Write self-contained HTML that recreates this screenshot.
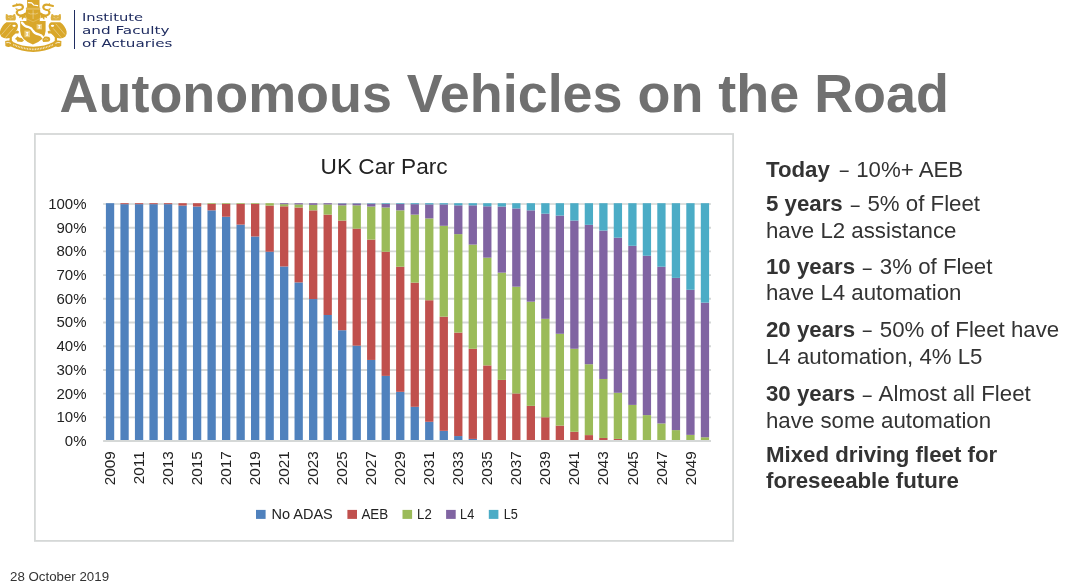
<!DOCTYPE html>
<html lang="en"><head><meta charset="utf-8"><title>Autonomous Vehicles on the Road</title>
<style>
html,body{margin:0;padding:0;background:#fff;}
body{width:1067px;height:585px;position:relative;overflow:hidden;will-change:transform;font-family:"Liberation Sans",sans-serif;}
.abs{position:absolute;white-space:nowrap;}
h1{position:absolute;left:59.6px;top:63px;margin:0;font-size:53.9px;line-height:60px;font-weight:bold;color:#707070;white-space:nowrap;letter-spacing:0;}
.t{position:absolute;left:766px;font-size:22.25px;line-height:26px;color:#333;white-space:nowrap;margin:0;}
.t b{font-weight:bold;}
.d{display:inline-block;transform:scaleX(0.72);position:relative;top:0.5px;}
.logo{position:absolute;left:82.4px;font-family:"DejaVu Sans","Liberation Sans",sans-serif;font-size:10.6px;line-height:12px;color:#1F2C60;white-space:nowrap;transform-origin:0 0;transform:scaleX(1.36);}
.foot{position:absolute;left:10px;top:568.5px;font-size:13.3px;line-height:15px;color:#333;white-space:nowrap;}
</style></head><body>
<svg width="70" height="56" viewBox="0 0 70 56" style="position:absolute;left:0;top:0">
<defs>
<g id="mant">
<path d="M13.2 6 L17.2 4.9 Q20.6 4 22.4 5.6 Q23.6 7.4 22 9 Q20.4 10.2 18 10.2 Q16.4 11.6 17 13.4 Q18 15.6 21 15.6 Q23.6 15.4 25.6 13.6" fill="none" stroke="#D9A72A" stroke-width="2.1" stroke-linejoin="round" stroke-linecap="round"/>
<path d="M16 4.6 L16.4 2.9 L18.6 4.4 Z M15 8.4 L17.6 8.6 L17 10.4 Z M20 15.6 L19 18.2 L21.6 17 L22 20 L24 17.6 L25.8 18.6 L25.8 13 Z" fill="#D9A72A"/>
</g>
<g id="owl">
<path fill="#DDB140" d="M5.8 14.3 L7 14 L8.4 15.4 Q10.5 14.8 12.6 15.4 L14 14 L15.2 14.3 L15.9 17.5 Q16 19.8 15 20.6 H6.6 Q5.5 19.8 5.6 17.5 Z"/>
<path fill="#D9A72A" d="M6.4 22.2 H15.4 Q18.4 23.6 17.9 27 Q17.4 30 15.4 31.4 L17.4 30.4 L19 31.6 L18.4 33.4 L15.6 33.6 Q13 35.4 11.8 37.6 L11.9 41 L13.4 41.9 H8 L9.4 40.8 L9.6 38 Q5 39.4 1.4 36.8 L0 34 V31.5 Q1.4 25.6 6.4 22.2 Z"/>
<ellipse cx="14.1" cy="25.8" rx="1.7" ry="1.15" fill="#fff"/>
<path d="M10.8 23.8 L1.6 34.6 M13.4 28.4 L5.4 37.6" stroke="#fff" stroke-width="0.5" opacity="0.7" fill="none"/>
<path d="M7 21.4 H14.8" stroke="#fff" stroke-width="0.5" opacity="0.5" fill="none"/>
<path d="M8 17.4 L9.8 17.9 M13.2 17.4 L11.4 17.9 M10.6 18.4 V19.4" stroke="#fff" stroke-width="0.6" opacity="0.55" fill="none"/>
</g>
</defs>
<g fill="#D9A72A" stroke="none">
<!-- top crest block -->
<path d="M27.1 0 H39.5 V7.4 L40.2 7.8 V9.2 H25.9 V7.8 L27.1 7.4 Z"/>
<!-- helmet -->
<path d="M26.2 9.2 H40 Q41.4 14 39.8 18.4 L39.8 21.4 L33.1 24.2 L26.4 21.4 L26.4 18.4 Q24.8 14 26.2 9.2 Z"/>
<use href="#mant"/>
<use href="#mant" transform="translate(66.2,0) scale(-1,1)"/>
<!-- shield -->
<path d="M20.2 21 L26.4 21 L33 23.6 L39.8 21 L45.6 21 V31 Q45.4 39.6 32.9 44.6 Q20.4 39.6 20.2 31 Z"/>
<use href="#owl"/>
<use href="#owl" transform="translate(66.6,0) scale(-1,1)"/>
<!-- small beasts at base -->
<path d="M14.9 39 L17.6 36.2 L19 37.6 L21.6 37.9 L24 40.6 L22 42 L17.2 41.6 L16.8 40 Z"/>
<path d="M42.4 40.6 Q42.2 36.8 45.8 36.6 Q49.6 36.4 50.2 39 Q50.4 41.4 47.6 41.8 L43.2 42 Z"/>
<!-- ribbon -->
<path d="M5.2 41 Q8.6 39.6 12.4 41.8 Q22 46.6 33.2 46.8 Q44.6 46.6 54 41.8 Q57.8 39.6 61.4 41 L61.2 46 Q58.6 47.6 55.6 46.6 Q45 51.8 33.2 52 Q21.6 51.8 10.8 46.6 Q8 47.6 5.4 46 Z"/>
</g>
<g fill="none" stroke="#fff" stroke-linecap="round">
<!-- wave in crest -->
<path d="M28.4 2.6 L31.6 2.9 L33.6 5 L37.6 5.6" stroke-width="1.2"/>
<path d="M26.4 8.3 H39.8" stroke-width="0.5" opacity="0.55"/>
<!-- helmet cross -->
<path d="M33.1 10.6 V18.6" stroke-width="0.7" opacity="0.5"/>
<path d="M28.4 13.2 Q30.6 14.6 33.1 13.8 Q35.6 14.6 37.8 13.2" stroke-width="0.6" opacity="0.55"/>
<path d="M27 19 L33.1 21.8 L39.2 19" stroke-width="0.45" opacity="0.45"/>
<!-- shield bend -->
<path d="M22 22.6 Q24 26.2 28.6 27.2 Q31.6 27.9 32.8 30.6 Q34.4 33.8 38.6 34.4 Q41.6 35 42.8 37.2" stroke-width="2.3"/>
<!-- ribbon text -->
<path d="M13.4 44.6 Q23 49 33.2 49.4 Q43.4 49 53 44.6" stroke-width="1.7" stroke-dasharray="0.8 0.8" stroke-linecap="butt" opacity="0.8"/>
<path d="M6.6 42.6 Q8.6 42 10.6 43.2 M59.8 42.6 Q57.8 42 55.8 43.2" stroke-width="0.8"/>
<path d="M44.4 39.2 Q46 38 47.8 39.4" stroke-width="0.6" opacity="0.6"/>
</g>
<!-- shield charges -->
<g fill="#EBCB78">
<rect x="36.6" y="24" width="5.4" height="5.4"/>
<rect x="24.4" y="30.6" width="5.6" height="6.6"/>
</g>
<g fill="#fff">
<path d="M38 25 L40.6 25 L39.6 26.7 L40.6 28.4 L38 28.4 L39 26.7 Z"/>
<path d="M25.8 32 L28.6 32 L27.5 33.9 L28.6 35.8 L25.8 35.8 L26.9 33.9 Z"/>
</g>
</svg>

<div style="position:absolute;left:74.2px;top:9.8px;width:1.2px;height:38.8px;background:#1F2C60"></div>
<div class="logo" style="top:11.2px;left:82px;transform:scaleX(1.388)">Institute</div>
<div class="logo" style="top:23.7px;transform:scaleX(1.438)">and Faculty</div>
<div class="logo" style="top:36.8px;transform:scaleX(1.431)">of Actuaries</div>
<h1>Autonomous Vehicles on the Road</h1>
<svg width="1067" height="585" viewBox="0 0 1067 585" style="position:absolute;left:0;top:0">
<rect x="34.9" y="134" width="698.2" height="406.9" fill="#fff" stroke="#D5D8D7" stroke-width="1.8"/>
<line x1="103.1" x2="711" y1="417.35" y2="417.35" stroke="#D5D8D7" stroke-width="1.9"/>
<line x1="103.1" x2="711" y1="393.64" y2="393.64" stroke="#D5D8D7" stroke-width="1.9"/>
<line x1="103.1" x2="711" y1="369.94" y2="369.94" stroke="#D5D8D7" stroke-width="1.9"/>
<line x1="103.1" x2="711" y1="346.23" y2="346.23" stroke="#D5D8D7" stroke-width="1.9"/>
<line x1="103.1" x2="711" y1="322.52" y2="322.52" stroke="#D5D8D7" stroke-width="1.9"/>
<line x1="103.1" x2="711" y1="298.82" y2="298.82" stroke="#D5D8D7" stroke-width="1.9"/>
<line x1="103.1" x2="711" y1="275.12" y2="275.12" stroke="#D5D8D7" stroke-width="1.9"/>
<line x1="103.1" x2="711" y1="251.41" y2="251.41" stroke="#D5D8D7" stroke-width="1.9"/>
<line x1="103.1" x2="711" y1="227.71" y2="227.71" stroke="#D5D8D7" stroke-width="1.9"/>
<line x1="103.1" x2="711" y1="204.00" y2="204.00" stroke="#DDE0DF" stroke-width="1.9"/>
<rect x="105.90" y="203.20" width="8.3" height="237.85" fill="#4F81BD"/>
<rect x="120.41" y="204.15" width="8.3" height="236.90" fill="#4F81BD"/>
<rect x="120.41" y="203.20" width="8.3" height="0.95" fill="#C0504D"/>
<rect x="134.92" y="204.15" width="8.3" height="236.90" fill="#4F81BD"/>
<rect x="134.92" y="203.20" width="8.3" height="0.95" fill="#C0504D"/>
<rect x="149.43" y="204.15" width="8.3" height="236.90" fill="#4F81BD"/>
<rect x="149.43" y="203.20" width="8.3" height="0.95" fill="#C0504D"/>
<rect x="163.94" y="204.15" width="8.3" height="236.90" fill="#4F81BD"/>
<rect x="163.94" y="203.20" width="8.3" height="0.95" fill="#C0504D"/>
<rect x="178.45" y="205.58" width="8.3" height="235.47" fill="#4F81BD"/>
<rect x="178.45" y="203.20" width="8.3" height="2.38" fill="#C0504D"/>
<rect x="192.96" y="206.53" width="8.3" height="234.52" fill="#4F81BD"/>
<rect x="192.96" y="203.20" width="8.3" height="3.33" fill="#C0504D"/>
<rect x="207.47" y="210.34" width="8.3" height="230.71" fill="#4F81BD"/>
<rect x="207.47" y="203.91" width="8.3" height="6.42" fill="#C0504D"/>
<rect x="207.47" y="203.20" width="8.3" height="0.71" fill="#9BBB59"/>
<rect x="221.98" y="216.76" width="8.3" height="224.29" fill="#4F81BD"/>
<rect x="221.98" y="203.91" width="8.3" height="12.84" fill="#C0504D"/>
<rect x="221.98" y="203.20" width="8.3" height="0.71" fill="#9BBB59"/>
<rect x="236.49" y="224.61" width="8.3" height="216.44" fill="#4F81BD"/>
<rect x="236.49" y="203.91" width="8.3" height="20.69" fill="#C0504D"/>
<rect x="236.49" y="203.20" width="8.3" height="0.71" fill="#9BBB59"/>
<rect x="251.00" y="236.50" width="8.3" height="204.55" fill="#4F81BD"/>
<rect x="251.00" y="203.91" width="8.3" height="32.59" fill="#C0504D"/>
<rect x="251.00" y="203.20" width="8.3" height="0.71" fill="#9BBB59"/>
<rect x="265.51" y="251.72" width="8.3" height="189.33" fill="#4F81BD"/>
<rect x="265.51" y="205.58" width="8.3" height="46.14" fill="#C0504D"/>
<rect x="265.51" y="203.20" width="8.3" height="2.38" fill="#9BBB59"/>
<rect x="280.02" y="266.47" width="8.3" height="174.58" fill="#4F81BD"/>
<rect x="280.02" y="206.29" width="8.3" height="60.18" fill="#C0504D"/>
<rect x="280.02" y="204.15" width="8.3" height="2.14" fill="#9BBB59"/>
<rect x="280.02" y="203.20" width="8.3" height="0.95" fill="#8064A2"/>
<rect x="294.53" y="282.40" width="8.3" height="158.65" fill="#4F81BD"/>
<rect x="294.53" y="207.48" width="8.3" height="74.92" fill="#C0504D"/>
<rect x="294.53" y="204.39" width="8.3" height="3.09" fill="#9BBB59"/>
<rect x="294.53" y="203.20" width="8.3" height="1.19" fill="#8064A2"/>
<rect x="309.04" y="299.05" width="8.3" height="142.00" fill="#4F81BD"/>
<rect x="309.04" y="210.34" width="8.3" height="88.72" fill="#C0504D"/>
<rect x="309.04" y="204.86" width="8.3" height="5.47" fill="#9BBB59"/>
<rect x="309.04" y="203.20" width="8.3" height="1.66" fill="#8064A2"/>
<rect x="323.55" y="314.99" width="8.3" height="126.06" fill="#4F81BD"/>
<rect x="323.55" y="214.62" width="8.3" height="100.37" fill="#C0504D"/>
<rect x="323.55" y="204.39" width="8.3" height="10.23" fill="#9BBB59"/>
<rect x="323.55" y="203.20" width="8.3" height="1.19" fill="#8064A2"/>
<rect x="338.06" y="330.21" width="8.3" height="110.84" fill="#4F81BD"/>
<rect x="338.06" y="220.56" width="8.3" height="109.65" fill="#C0504D"/>
<rect x="338.06" y="205.34" width="8.3" height="15.22" fill="#9BBB59"/>
<rect x="338.06" y="203.44" width="8.3" height="1.90" fill="#8064A2"/>
<rect x="338.06" y="203.20" width="8.3" height="0.24" fill="#4BACC6"/>
<rect x="352.57" y="345.67" width="8.3" height="95.38" fill="#4F81BD"/>
<rect x="352.57" y="228.65" width="8.3" height="117.02" fill="#C0504D"/>
<rect x="352.57" y="205.34" width="8.3" height="23.31" fill="#9BBB59"/>
<rect x="352.57" y="203.44" width="8.3" height="1.90" fill="#8064A2"/>
<rect x="352.57" y="203.20" width="8.3" height="0.24" fill="#4BACC6"/>
<rect x="367.08" y="359.94" width="8.3" height="81.11" fill="#4F81BD"/>
<rect x="367.08" y="239.59" width="8.3" height="120.35" fill="#C0504D"/>
<rect x="367.08" y="206.53" width="8.3" height="33.06" fill="#9BBB59"/>
<rect x="367.08" y="203.68" width="8.3" height="2.85" fill="#8064A2"/>
<rect x="367.08" y="203.20" width="8.3" height="0.48" fill="#4BACC6"/>
<rect x="381.59" y="375.88" width="8.3" height="65.17" fill="#4F81BD"/>
<rect x="381.59" y="251.72" width="8.3" height="124.16" fill="#C0504D"/>
<rect x="381.59" y="207.48" width="8.3" height="44.24" fill="#9BBB59"/>
<rect x="381.59" y="203.91" width="8.3" height="3.57" fill="#8064A2"/>
<rect x="381.59" y="203.20" width="8.3" height="0.71" fill="#4BACC6"/>
<rect x="396.10" y="391.82" width="8.3" height="49.23" fill="#4F81BD"/>
<rect x="396.10" y="266.71" width="8.3" height="125.11" fill="#C0504D"/>
<rect x="396.10" y="210.34" width="8.3" height="56.37" fill="#9BBB59"/>
<rect x="396.10" y="203.91" width="8.3" height="6.42" fill="#8064A2"/>
<rect x="396.10" y="203.20" width="8.3" height="0.71" fill="#4BACC6"/>
<rect x="410.61" y="406.80" width="8.3" height="34.25" fill="#4F81BD"/>
<rect x="410.61" y="282.64" width="8.3" height="124.16" fill="#C0504D"/>
<rect x="410.61" y="214.62" width="8.3" height="68.03" fill="#9BBB59"/>
<rect x="410.61" y="204.15" width="8.3" height="10.47" fill="#8064A2"/>
<rect x="410.61" y="203.20" width="8.3" height="0.95" fill="#4BACC6"/>
<rect x="425.12" y="421.78" width="8.3" height="19.27" fill="#4F81BD"/>
<rect x="425.12" y="300.24" width="8.3" height="121.54" fill="#C0504D"/>
<rect x="425.12" y="218.42" width="8.3" height="81.82" fill="#9BBB59"/>
<rect x="425.12" y="204.39" width="8.3" height="14.03" fill="#8064A2"/>
<rect x="425.12" y="203.20" width="8.3" height="1.19" fill="#4BACC6"/>
<rect x="439.63" y="430.82" width="8.3" height="10.23" fill="#4F81BD"/>
<rect x="439.63" y="316.65" width="8.3" height="114.17" fill="#C0504D"/>
<rect x="439.63" y="225.80" width="8.3" height="90.86" fill="#9BBB59"/>
<rect x="439.63" y="204.39" width="8.3" height="21.41" fill="#8064A2"/>
<rect x="439.63" y="203.20" width="8.3" height="1.19" fill="#4BACC6"/>
<rect x="454.14" y="436.06" width="8.3" height="4.99" fill="#4F81BD"/>
<rect x="454.14" y="332.59" width="8.3" height="103.46" fill="#C0504D"/>
<rect x="454.14" y="234.12" width="8.3" height="98.47" fill="#9BBB59"/>
<rect x="454.14" y="205.34" width="8.3" height="28.78" fill="#8064A2"/>
<rect x="454.14" y="203.20" width="8.3" height="2.14" fill="#4BACC6"/>
<rect x="468.65" y="438.91" width="8.3" height="2.14" fill="#4F81BD"/>
<rect x="468.65" y="348.76" width="8.3" height="90.15" fill="#C0504D"/>
<rect x="468.65" y="244.59" width="8.3" height="104.18" fill="#9BBB59"/>
<rect x="468.65" y="205.34" width="8.3" height="39.25" fill="#8064A2"/>
<rect x="468.65" y="203.20" width="8.3" height="2.14" fill="#4BACC6"/>
<rect x="483.16" y="440.34" width="8.3" height="0.71" fill="#4F81BD"/>
<rect x="483.16" y="365.41" width="8.3" height="74.92" fill="#C0504D"/>
<rect x="483.16" y="257.67" width="8.3" height="107.75" fill="#9BBB59"/>
<rect x="483.16" y="206.29" width="8.3" height="51.38" fill="#8064A2"/>
<rect x="483.16" y="203.20" width="8.3" height="3.09" fill="#4BACC6"/>
<rect x="497.67" y="379.92" width="8.3" height="61.13" fill="#C0504D"/>
<rect x="497.67" y="272.65" width="8.3" height="107.27" fill="#9BBB59"/>
<rect x="497.67" y="206.53" width="8.3" height="66.12" fill="#8064A2"/>
<rect x="497.67" y="203.20" width="8.3" height="3.33" fill="#4BACC6"/>
<rect x="512.18" y="393.48" width="8.3" height="47.57" fill="#C0504D"/>
<rect x="512.18" y="286.69" width="8.3" height="106.79" fill="#9BBB59"/>
<rect x="512.18" y="208.43" width="8.3" height="78.25" fill="#8064A2"/>
<rect x="512.18" y="203.20" width="8.3" height="5.23" fill="#4BACC6"/>
<rect x="526.69" y="405.85" width="8.3" height="35.20" fill="#C0504D"/>
<rect x="526.69" y="301.67" width="8.3" height="104.18" fill="#9BBB59"/>
<rect x="526.69" y="210.34" width="8.3" height="91.33" fill="#8064A2"/>
<rect x="526.69" y="203.20" width="8.3" height="7.14" fill="#4BACC6"/>
<rect x="541.20" y="417.26" width="8.3" height="23.79" fill="#C0504D"/>
<rect x="541.20" y="318.80" width="8.3" height="98.47" fill="#9BBB59"/>
<rect x="541.20" y="213.67" width="8.3" height="105.13" fill="#8064A2"/>
<rect x="541.20" y="203.20" width="8.3" height="10.47" fill="#4BACC6"/>
<rect x="555.71" y="425.59" width="8.3" height="15.46" fill="#C0504D"/>
<rect x="555.71" y="333.78" width="8.3" height="91.81" fill="#9BBB59"/>
<rect x="555.71" y="215.57" width="8.3" height="118.21" fill="#8064A2"/>
<rect x="555.71" y="203.20" width="8.3" height="12.37" fill="#4BACC6"/>
<rect x="570.22" y="431.77" width="8.3" height="9.28" fill="#C0504D"/>
<rect x="570.22" y="348.76" width="8.3" height="83.01" fill="#9BBB59"/>
<rect x="570.22" y="220.56" width="8.3" height="128.20" fill="#8064A2"/>
<rect x="570.22" y="203.20" width="8.3" height="17.36" fill="#4BACC6"/>
<rect x="584.73" y="435.10" width="8.3" height="5.95" fill="#C0504D"/>
<rect x="584.73" y="364.22" width="8.3" height="70.88" fill="#9BBB59"/>
<rect x="584.73" y="224.84" width="8.3" height="139.38" fill="#8064A2"/>
<rect x="584.73" y="203.20" width="8.3" height="21.64" fill="#4BACC6"/>
<rect x="599.24" y="437.96" width="8.3" height="3.09" fill="#C0504D"/>
<rect x="599.24" y="378.97" width="8.3" height="58.99" fill="#9BBB59"/>
<rect x="599.24" y="230.55" width="8.3" height="148.42" fill="#8064A2"/>
<rect x="599.24" y="203.20" width="8.3" height="27.35" fill="#4BACC6"/>
<rect x="613.75" y="438.91" width="8.3" height="2.14" fill="#C0504D"/>
<rect x="613.75" y="392.77" width="8.3" height="46.14" fill="#9BBB59"/>
<rect x="613.75" y="237.69" width="8.3" height="155.08" fill="#8064A2"/>
<rect x="613.75" y="203.20" width="8.3" height="34.49" fill="#4BACC6"/>
<rect x="628.26" y="440.34" width="8.3" height="0.71" fill="#C0504D"/>
<rect x="628.26" y="404.90" width="8.3" height="35.44" fill="#9BBB59"/>
<rect x="628.26" y="245.78" width="8.3" height="159.12" fill="#8064A2"/>
<rect x="628.26" y="203.20" width="8.3" height="42.58" fill="#4BACC6"/>
<rect x="642.77" y="415.12" width="8.3" height="25.93" fill="#9BBB59"/>
<rect x="642.77" y="255.76" width="8.3" height="159.36" fill="#8064A2"/>
<rect x="642.77" y="203.20" width="8.3" height="52.56" fill="#4BACC6"/>
<rect x="657.28" y="423.45" width="8.3" height="17.60" fill="#9BBB59"/>
<rect x="657.28" y="266.71" width="8.3" height="156.74" fill="#8064A2"/>
<rect x="657.28" y="203.20" width="8.3" height="63.51" fill="#4BACC6"/>
<rect x="671.79" y="430.11" width="8.3" height="10.94" fill="#9BBB59"/>
<rect x="671.79" y="277.88" width="8.3" height="152.22" fill="#8064A2"/>
<rect x="671.79" y="203.20" width="8.3" height="74.68" fill="#4BACC6"/>
<rect x="686.30" y="434.87" width="8.3" height="6.18" fill="#9BBB59"/>
<rect x="686.30" y="289.78" width="8.3" height="145.09" fill="#8064A2"/>
<rect x="686.30" y="203.20" width="8.3" height="86.58" fill="#4BACC6"/>
<rect x="700.81" y="437.24" width="8.3" height="3.81" fill="#9BBB59"/>
<rect x="700.81" y="302.62" width="8.3" height="134.62" fill="#8064A2"/>
<rect x="700.81" y="203.20" width="8.3" height="99.42" fill="#4BACC6"/>
<line x1="103.1" x2="711" y1="441.05" y2="441.05" stroke="#D5D8D7" stroke-width="1.9"/>
<g font-family="'Liberation Sans', sans-serif" font-size="15" fill="#222" text-anchor="end">
<text x="86.5" y="445.95">0%</text>
<text x="86.5" y="422.25">10%</text>
<text x="86.5" y="398.54">20%</text>
<text x="86.5" y="374.83">30%</text>
<text x="86.5" y="351.13">40%</text>
<text x="86.5" y="327.42">50%</text>
<text x="86.5" y="303.72">60%</text>
<text x="86.5" y="280.01">70%</text>
<text x="86.5" y="256.31">80%</text>
<text x="86.5" y="232.61">90%</text>
<text x="86.5" y="208.90">100%</text>
</g>
<g font-family="'Liberation Sans', sans-serif" font-size="15.3" fill="#222" text-anchor="end">
<text transform="translate(115.15,451.3) rotate(-90)">2009</text>
<text transform="translate(144.17,451.3) rotate(-90)">2011</text>
<text transform="translate(173.19,451.3) rotate(-90)">2013</text>
<text transform="translate(202.21,451.3) rotate(-90)">2015</text>
<text transform="translate(231.23,451.3) rotate(-90)">2017</text>
<text transform="translate(260.25,451.3) rotate(-90)">2019</text>
<text transform="translate(289.27,451.3) rotate(-90)">2021</text>
<text transform="translate(318.29,451.3) rotate(-90)">2023</text>
<text transform="translate(347.31,451.3) rotate(-90)">2025</text>
<text transform="translate(376.33,451.3) rotate(-90)">2027</text>
<text transform="translate(405.35,451.3) rotate(-90)">2029</text>
<text transform="translate(434.37,451.3) rotate(-90)">2031</text>
<text transform="translate(463.39,451.3) rotate(-90)">2033</text>
<text transform="translate(492.41,451.3) rotate(-90)">2035</text>
<text transform="translate(521.43,451.3) rotate(-90)">2037</text>
<text transform="translate(550.45,451.3) rotate(-90)">2039</text>
<text transform="translate(579.47,451.3) rotate(-90)">2041</text>
<text transform="translate(608.49,451.3) rotate(-90)">2043</text>
<text transform="translate(637.51,451.3) rotate(-90)">2045</text>
<text transform="translate(666.53,451.3) rotate(-90)">2047</text>
<text transform="translate(695.55,451.3) rotate(-90)">2049</text>
</g>
<text x="320.6" y="173.8" font-family="'Liberation Sans', sans-serif" font-size="22.9" fill="#222" textLength="127" lengthAdjust="spacingAndGlyphs">UK Car Parc</text>
<g font-family="'Liberation Sans', sans-serif" font-size="14.4" fill="#222">
<rect x="256.0" y="509.9" width="9.6" height="9" fill="#4F81BD"/>
<text x="271.5" y="518.7" textLength="61.3" lengthAdjust="spacingAndGlyphs">No ADAS</text>
<rect x="347.4" y="509.9" width="9.6" height="9" fill="#C0504D"/>
<text x="361.4" y="518.7" textLength="26.8" lengthAdjust="spacingAndGlyphs">AEB</text>
<rect x="402.5" y="509.9" width="9.6" height="9" fill="#9BBB59"/>
<text x="417.1" y="518.7" textLength="14.6" lengthAdjust="spacingAndGlyphs">L2</text>
<rect x="446.1" y="509.9" width="9.6" height="9" fill="#8064A2"/>
<text x="460.1" y="518.7" textLength="14.1" lengthAdjust="spacingAndGlyphs">L4</text>
<rect x="488.8" y="509.9" width="9.6" height="9" fill="#4BACC6"/>
<text x="503.7" y="518.7" textLength="14.1" lengthAdjust="spacingAndGlyphs">L5</text>
</g>
</svg>
<p class="t" style="top:156.5px"><b>Today</b> <span class="d" style="margin-left:1.6px">&ndash;</span> 10%+ AEB</p>
<p class="t" style="top:191.1px"><b>5 years</b> <span class="d">&ndash;</span> 5% of Fleet</p>
<p class="t" style="top:217.7px">have L2 assistance</p>
<p class="t" style="top:254.0px"><b>10 years</b> <span class="d">&ndash;</span> 3% of Fleet</p>
<p class="t" style="top:280.3px">have L4 automation</p>
<p class="t" style="top:316.9px"><b>20 years</b> <span class="d">&ndash;</span> 50% of Fleet have</p>
<p class="t" style="top:343.9px">L4 automation, 4% L5</p>
<p class="t" style="top:381.3px"><b>30 years</b> <span class="d">&ndash;</span> Almost all Fleet</p>
<p class="t" style="top:407.9px">have some automation</p>
<p class="t" style="top:441.6px"><b>Mixed driving fleet for</b></p>
<p class="t" style="top:468.3px"><b>foreseeable future</b></p>
<div class="foot">28 October 2019</div>
</body></html>
